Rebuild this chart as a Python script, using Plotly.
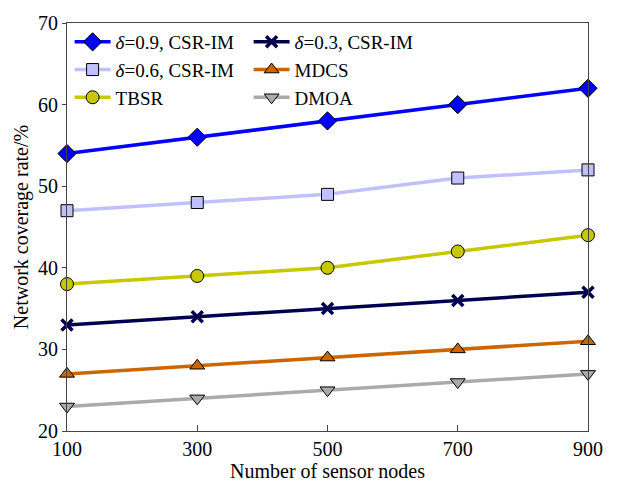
import plotly.graph_objects as go

nodes = [100, 300, 500, 700, 900]
names = ["<i>δ</i>=0.9, CSR-IM", "<i>δ</i>=0.3, CSR-IM", "<i>δ</i>=0.6, CSR-IM", "MDCS", "TBSR", "DMOA"]
d09 = [54, 56, 58, 60, 62]
d03 = [33, 34, 35, 36, 37]
d06 = [47, 48, 49, 51, 52]
mdcs = [27, 28, 29, 30, 31]
tbsr = [38, 39, 40, 42, 44]
dmoa = [23, 24, 25, 26, 27]
series = [d09, d03, d06, mdcs, tbsr, dmoa]
colors = ["#0000ff", "#00004f", "#c0c0ff", "#cc6600", "#c8c800", "#aaaaaa"]
symbols = ["diamond", "x-thin", "square", "triangle-up", "circle", "triangle-down"]
sizes = [14, 11, 12, 13, 13, 13]

fig = go.Figure()
for n, ys, c, s, sz in zip(names, series, colors, symbols, sizes):
    if s == "x-thin":
        marker = dict(symbol=s, size=sz, color=c, line=dict(color=c, width=3.5))
    else:
        marker = dict(symbol=s, size=sz, color=c, line=dict(color="black", width=1))
    fig.add_trace(go.Scatter(x=nodes, y=ys, name=n, mode="lines+markers",
                             line=dict(color=c, width=3.5), marker=marker, cliponaxis=False))

font = "Liberation Serif, Times New Roman, serif"
fig.update_layout(
    width=621, height=488,
    margin=dict(l=67, r=33, t=17, b=56),
    paper_bgcolor="white", plot_bgcolor="white",
    font=dict(family=font, size=20, color="black"),
    showlegend=True,
    legend=dict(orientation="h", x=0.005, y=1.0, xanchor="left", yanchor="top",
                entrywidth=128, entrywidthmode="pixels", bgcolor="rgba(0,0,0,0)",
                font=dict(family=font, size=19), tracegroupgap=0, itemwidth=36),
    xaxis=dict(range=[100, 900], tickvals=nodes, ticks="inside", ticklen=6,
               showgrid=False, zeroline=False, showline=True, linecolor="#444",
               linewidth=1, mirror=True, tickcolor="#444",
               title=dict(text="Number of sensor nodes", standoff=2, font=dict(size=20)),
               tickfont=dict(size=20)),
    yaxis=dict(range=[20, 70], dtick=10, ticks="outside", ticklen=4,
               showgrid=False, zeroline=False, showline=True, linecolor="#444",
               linewidth=1, mirror=True, tickcolor="#444",
               title=dict(text="Network coverage rate/%", standoff=4, font=dict(size=20)),
               tickfont=dict(size=20)),
)
fig.write_html("out.html")
